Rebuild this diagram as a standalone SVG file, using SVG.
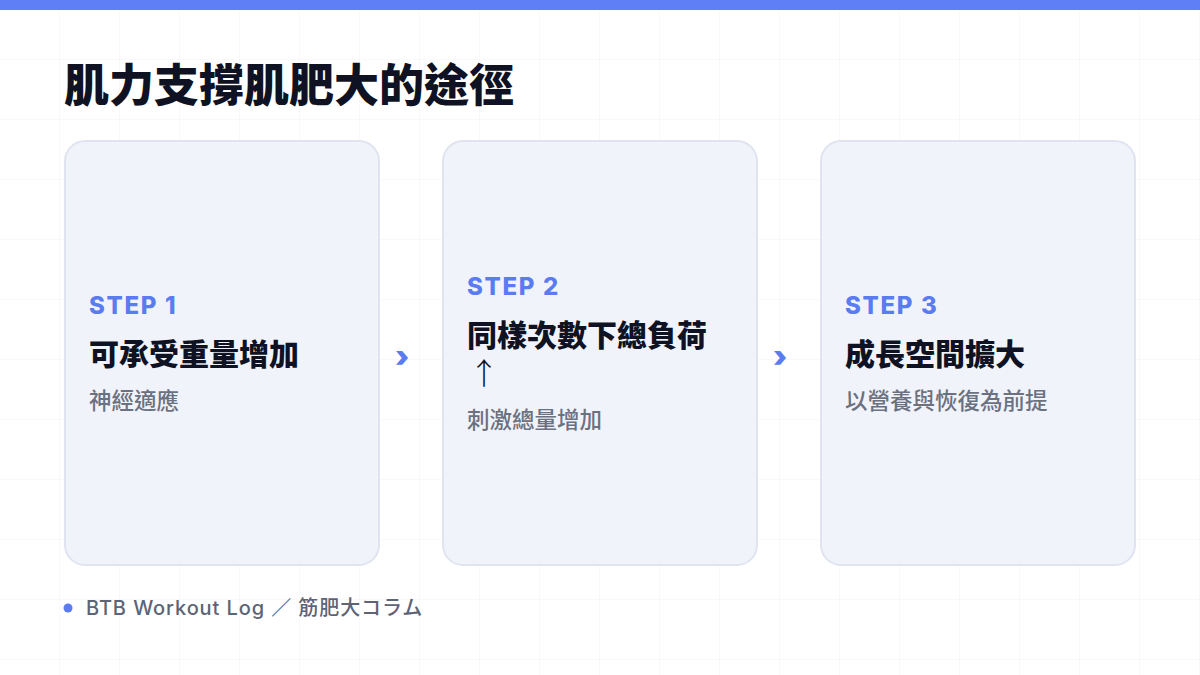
<svg xmlns="http://www.w3.org/2000/svg" width="1200" height="675" viewBox="0 0 1200 675">
<defs>
<pattern id="grid" width="60" height="60" patternUnits="userSpaceOnUse">
<path d="M60 0V60M0 60H60" fill="none" stroke="#f2f3f7" stroke-width="1"/>
</pattern>
<style>
.card{fill:#f1f3fb;stroke:#e0e4f0;stroke-width:2}
.step{font-family:Inter,"Noto Sans CJK TC",sans-serif;font-weight:800;font-size:24px;fill:#5b7cf0;letter-spacing:1.7px}
.ttl{font-family:Inter,"Noto Sans CJK TC",sans-serif;font-weight:900;font-size:30px;fill:#0f1222}
.arw{font-family:"Noto Sans CJK TC",sans-serif;font-weight:300;font-size:30px;fill:#0f1222}
.sub{font-family:Inter,"Noto Sans CJK TC",sans-serif;font-weight:500;font-size:22.5px;fill:#6b7180}
.chev{font-family:Inter,"Noto Sans CJK TC",sans-serif;font-weight:900;font-size:30px;fill:#5b7cf0}
</style>
</defs>
<rect width="1200" height="675" fill="#ffffff"/>
<rect width="1200" height="675" fill="url(#grid)"/>
<rect width="1200" height="10" fill="#5f7ff7"/>
<text x="64" y="102" font-family="Inter,'Noto Sans CJK TC',sans-serif" font-weight="900" font-size="45" fill="#0f1222">肌力支撐肌肥大的途徑</text>
<g id="step1">
<rect class="card" x="65" y="141" width="314" height="424" rx="20"/>
<text class="step" x="89" y="314">STEP 1</text>
<text class="ttl" x="89" y="365">可承受重量增加</text>
<text class="sub" x="89" y="409">神經適應</text>
</g>
<g id="step2">
<rect class="card" x="443" y="141" width="314" height="424" rx="20"/>
<text class="step" x="467" y="295">STEP 2</text>
<text class="ttl" x="467" y="346">同樣次數下總負荷</text>
<text class="arw" x="469" y="384">↑</text>
<text class="sub" x="467" y="428">刺激總量增加</text>
</g>
<g id="step3">
<rect class="card" x="821" y="141" width="314" height="424" rx="20"/>
<text class="step" x="845" y="314">STEP 3</text>
<text class="ttl" x="845" y="365">成長空間擴大</text>
<text class="sub" x="845" y="409">以營養與恢復為前提</text>
</g>
<g id="connectors">
<text class="chev" x="402" y="367" text-anchor="middle">›</text>
<text class="chev" x="780" y="367" text-anchor="middle">›</text>
</g>
<g id="footer">
<circle cx="68" cy="608" r="4.5" fill="#5b7cf0"/>
<text x="86" y="615" font-family="Inter,'Noto Sans CJK JP',sans-serif" font-weight="500" font-size="20" letter-spacing="0.9" fill="#5d6475">BTB Workout Log ／ 筋肥大コラム</text>
</g>
</svg>
